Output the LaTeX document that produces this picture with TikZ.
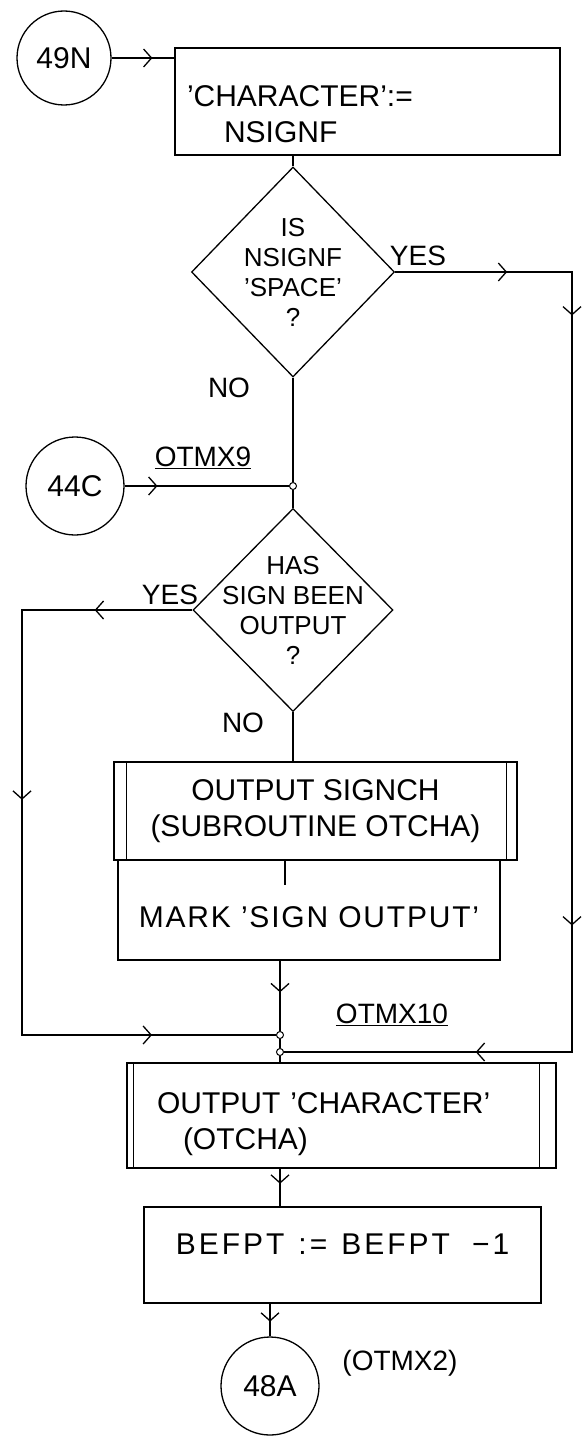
\documentclass[tikz,border=0pt]{standalone}
\usepackage{fontspec}
\setmainfont{Liberation Sans}
\usetikzlibrary{arrows.meta,shapes.geometric,decorations.markings}

\begin{document}
\begin{tikzpicture}[x=1pt,y=-1pt,line width=1.3pt,
  font=\fontsize{30}{36}\selectfont,
  conn/.style={draw,circle,inner sep=0,minimum size=#1},
  proc/.style={draw,inner sep=0},
  ask/.style={draw,diamond,inner sep=-40pt,align=center,font=\fontsize{26}{30}\selectfont},
  dot/.style={draw,circle,fill=white,inner sep=0,minimum size=7pt,line width=1pt},
  lbl/.style={inner sep=0,font=\fontsize{28}{30}\selectfont},
  arrowat/.style={postaction={decorate,decoration={markings,mark=at position #1 with {\arrow{Straight Barb[length=8pt,width=18pt]}}}}}]
\useasboundingbox (0,0) rectangle (585,1437);

\node[conn=94pt] (c49N) at (64,58) {49N};
\node[proc,minimum width=385pt,minimum height=107pt,text width=361pt,text height=46pt,align=left] (setch) at (367.5,101.5) {'CHARACTER':=\\\hspace*{37pt}NSIGNF};
\node[ask,minimum width=203pt,minimum height=210pt] (isspace) at (293,272) {IS\\NSIGNF\\'SPACE'\\?};
\node[dot] (j1) at (293,486) {};
\node[conn=98pt] (c44C) at (75,486) {44C};
\node[ask,minimum width=200pt,minimum height=203pt] (hassign) at (293,610) {HAS\\SIGN BEEN\\OUTPUT\\?};
\node[proc,minimum width=403pt,minimum height=98pt,align=center] (outsign) at (315.5,811) {OUTPUT SIGNCH\\(SUBROUTINE OTCHA)};
\node[proc,minimum width=382pt,minimum height=100pt,text height=36pt] (marksign) at (309,910) {\addfontfeature{LetterSpace=6}MARK 'SIGN OUTPUT'};
\node[dot] (j2) at (280,1035) {};
\node[dot] (j3) at (280,1052) {};
\node[proc,minimum width=429pt,minimum height=105pt,text width=369pt,text height=38pt,align=left] (outch) at (341.5,1115.5) {OUTPUT 'CHARACTER'\\\hspace*{26pt}(OTCHA)};
\node[proc,minimum width=397pt,minimum height=96pt,text depth=22pt] (befpt) at (342.5,1255) {\addfontfeature{LetterSpace=10}BEFPT\hspace{14pt}:=\hspace{14pt}BEFPT\hspace{22pt}−1};
\node[conn=98pt] (c48A) at (270,1386) {48A};

\draw ([xshift=13pt]outsign.north west) -- ([xshift=13pt]outsign.south west);
\draw ([xshift=-11pt]outsign.north east) -- ([xshift=-11pt]outsign.south east);
\draw ([xshift=7pt]outch.north west) -- ([xshift=7pt]outch.south west);
\draw ([xshift=-17pt]outch.north east) -- ([xshift=-17pt]outch.south east);

\node[lbl] (yes1) at (418,256) {YES};
\node[lbl] (no1) at (229,388) {NO};
\node[lbl] (otmx9) at (203,458) {\underline{OTMX9}};
\node[lbl] (yes2) at (170,595) {YES};
\node[lbl] (no2) at (243,723) {NO};
\node[lbl] (otmx10) at (392,1015) {\underline{OTMX10}};
\node[lbl] (otmx2) at (400,1363) {(OTMX2)};

\coordinate (rt) at (572,272);
\coordinate (lf) at (22,0);
\coordinate (tick) at (285,885);

\draw[arrowat=0.65] (c49N) -- (c49N -| setch.west);
\draw (isspace.north |- setch.south) -- (isspace.north);
\draw (isspace.south) -- (j1);
\draw[arrowat=0.2] (c44C) -- (j1);
\draw (j1) -- (hassign.north);
\draw (hassign.south) -- (hassign.south |- outsign.north);
\draw[arrowat=0.09,arrowat=0.177,arrowat=0.667,arrowat=0.846] (isspace.east) -- (rt) -- (rt |- j3) -- (j3);
\draw[arrowat=0.115,arrowat=0.424,arrowat=0.854] (hassign.west) -- (hassign.west -| lf) -- (lf |- j2) -- (j2);
\draw (tick |- marksign.north) -- (tick);
\draw[arrowat=0.45] (marksign.south -| j2) -- (j2);
\draw (j2) -- (j3);
\draw (j3) -- (j3 |- outch.north);
\draw[arrowat=0.4] (outch.south -| j3) -- (j3 |- befpt.north);
\draw[arrowat=0.55] (befpt.south -| c48A) -- (c48A);
\end{tikzpicture}
\end{document}
